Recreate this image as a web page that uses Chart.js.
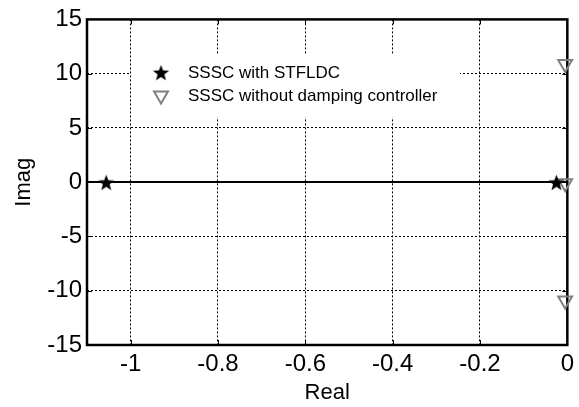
<!DOCTYPE html>
<html>
<head>
<meta charset="utf-8">
<script src="https://cdn.jsdelivr.net/npm/chart.js@4.4.0/dist/chart.umd.min.js"></script>
<style>
html,body{margin:0;padding:0;background:#fff;}
</style>
</head>
<body>
<canvas id="myChart" width="579" height="407"></canvas>
<script>
'use strict';
// poles
const withLabel='SSSC with STFLDC';
const withReal=[-1.056,-0.025];
const withImag=[0,0];

const withoutLabel='SSSC without damping controller';
const withoutReal=[-0.005,-0.005,-0.005];
const withoutImag=[10.9,-0.1,-10.9];

const xTicks=[-1,-0.8,-0.6,-0.4,-0.2,0];
const yTicks=[-15,-10,-5,0,5,10,15];

Chart.defaults.font.family='"Liberation Sans", Arial, Helvetica, sans-serif';
Chart.defaults.color='#000';

// filled five point star like matlab's pentagram
function makeStar(r){
    const c=document.createElement('canvas');
    const s=Math.ceil(r*2)+2;
    c.width=s;c.height=s;
    const g=c.getContext('2d');
    g.fillStyle='#000';
    g.beginPath();
    for(let i=0;i<10;i++){
        const rad=i%2===0?r:r*0.42;
        const a=-Math.PI/2+i*Math.PI/5;
        const px=s/2+rad*Math.cos(a);
        const py=s/2+rad*Math.sin(a)+1;
        if(i===0){g.moveTo(px,py);}else{g.lineTo(px,py);}
    }
    g.closePath();
    g.fill();
    return c;
}
const star=makeStar(8.5);

function toPoints(xs,ys){
    let pts=[];
    for(let i=0;i<xs.length;i++){
        pts.push({x:xs[i],y:ys[i]});
    }
    return pts;
}

// box round the plot with small inward ticks
const frame={
    id:'frame',
    beforeDatasetsDraw(chart){
        const {ctx,chartArea:a,scales}=chart;
        ctx.save();
        ctx.strokeStyle='#000';
        ctx.lineWidth=1;
        ctx.beginPath();
        xTicks.forEach(v=>{
            const px=Math.round(scales.x.getPixelForValue(v))+0.5;
            ctx.moveTo(px,a.bottom);ctx.lineTo(px,a.bottom-5);
            ctx.moveTo(px,a.top);ctx.lineTo(px,a.top+5);
        });
        yTicks.forEach(v=>{
            const py=Math.round(scales.y.getPixelForValue(v))+0.5;
            ctx.moveTo(a.left,py);ctx.lineTo(a.left+5,py);
            ctx.moveTo(a.right,py);ctx.lineTo(a.right-5,py);
        });
        ctx.stroke();
        ctx.lineWidth=2.5;
        ctx.strokeRect(a.left,a.top,a.right-a.left,a.bottom-a.top);
        ctx.restore();
    }
};

// legend inside the plot, white box, no border
const legendBox={
    id:'legendBox',
    afterDatasetsDraw(chart){
        const {ctx,chartArea:a}=chart;
        const left=a.left+44;
        const top=a.top+35;
        ctx.save();
        ctx.fillStyle='#fff';
        ctx.fillRect(left,top,329,63);
        chart.data.datasets.forEach((ds,i)=>{
            const y=top+18+i*23;
            ctx.fillStyle=ds.backgroundColor;
            ctx.strokeStyle=ds.borderColor;
            ctx.lineWidth=ds.borderWidth;
            Chart.helpers.drawPoint(ctx,{
                pointStyle:ds.pointStyle,
                radius:ds.pointRadius,
                rotation:ds.pointRotation||0,
                borderWidth:ds.borderWidth
            },left+30,y);
            ctx.fillStyle='#000';
            ctx.font='17px "Liberation Sans", Arial, sans-serif';
            ctx.textBaseline='middle';
            ctx.fillText(ds.label,left+57,y+1);
        });
        ctx.restore();
    }
};

const ctx=document.getElementById('myChart').getContext('2d');
const myChart=new Chart(ctx,{
    type:'scatter',
    data:{
        datasets:[{
            label:withLabel,
            data:toPoints(withReal,withImag),
            pointStyle:star,
            pointRadius:8,
            backgroundColor:'#000',
            borderColor:'#000',
            borderWidth:0,
            clip:false
        },{
            label:withoutLabel,
            data:toPoints(withoutReal,withoutImag),
            pointStyle:'triangle',
            pointRotation:180,
            pointRadius:8,
            backgroundColor:'rgba(0,0,0,0)',
            borderColor:'#808080',
            borderWidth:2,
            clip:false
        }]
    },
    options:{
        responsive:false,
        animation:false,
        events:[],
        layout:{padding:{top:15,right:11,left:0,bottom:0}},
        plugins:{legend:{display:false},tooltip:{enabled:false}},
        scales:{
            x:{
                type:'linear',
                min:-1.1,
                max:0,
                afterBuildTicks:s=>{s.ticks=xTicks.map(v=>({value:v}));},
                afterFit:s=>{s.height=62;},
                grid:{color:'#000',lineWidth:1,drawTicks:false},
                border:{display:false,dash:[2,2]},
                ticks:{
                    color:'#000',
                    font:{size:24},
                    padding:5,
                    maxRotation:0,
                    autoSkip:false,
                    callback:v=>String(parseFloat(v.toFixed(1)))
                },
                title:{display:true,text:'Real',color:'#000',font:{size:22},padding:{top:0,bottom:1}}
            },
            y:{
                type:'linear',
                min:-15,
                max:15,
                afterBuildTicks:s=>{s.ticks=yTicks.map(v=>({value:v}));},
                afterFit:s=>{s.width=87;},
                grid:{
                    color:'#000',
                    lineWidth:c=>(c.tick&&c.tick.value===0)?2:1,
                    drawTicks:false
                },
                border:{
                    display:false,
                    dash:c=>(c.tick&&c.tick.value===0)?[]:[2,2]
                },
                ticks:{color:'#000',font:{size:24},padding:5,autoSkip:false},
                title:{display:true,text:'Imag',color:'#000',font:{size:22},padding:{top:11,bottom:0}}
            }
        }
    },
    plugins:[frame,legendBox]
});
</script>
</body>
</html>
